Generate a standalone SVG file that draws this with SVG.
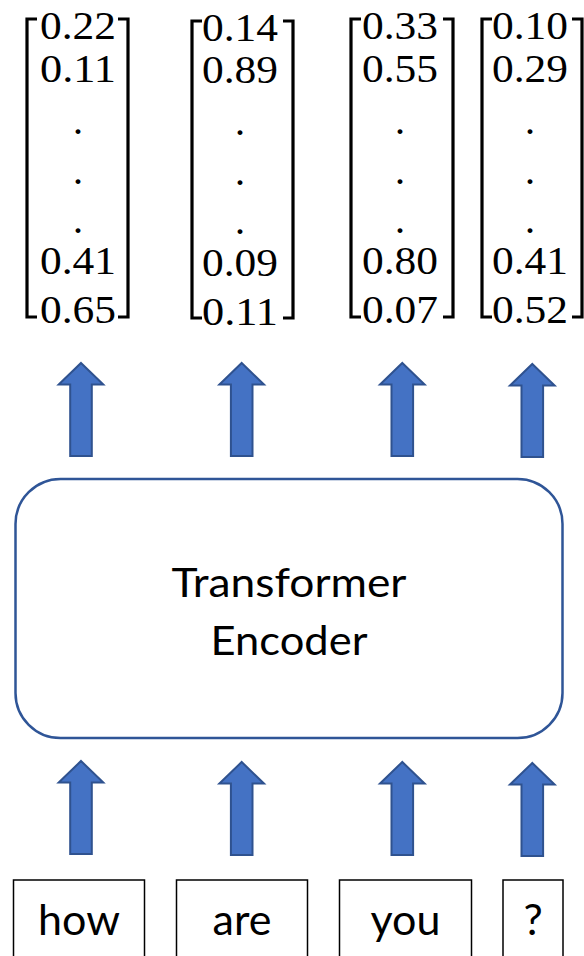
<svg xmlns="http://www.w3.org/2000/svg" xmlns:xlink="http://www.w3.org/1999/xlink" width="584" height="956" viewBox="0 0 584 956">
  <style>
    .num { font-family: "Liberation Serif", "Times New Roman", serif; font-size: 41px; fill: #000; text-anchor: middle; }
    .dot { font-size: 30px; font-weight: bold; }
    .bracket { fill: none; stroke: #000; stroke-width: 3.2; }
    .label { font-family: Lato, "Open Sans", sans-serif; font-size: 41px; fill: #000; text-anchor: middle; }
    .word { font-size: 43px; }
    .token { fill: #fff; stroke: #000; stroke-width: 1.5; }
    .encoder { fill: #fff; stroke: #2F5597; stroke-width: 2.5; }
    .arrow { fill: #4472C4; stroke: #2F528F; stroke-width: 2; stroke-linejoin: miter; }
  </style>
  <defs>
    <!-- block up-arrow, tip at (0,0) -->
    <path id="up" d="M0,0 L22.3,21.5 L10.8,21.5 L10.8,93 L-10.8,93 L-10.8,21.5 L-22.3,21.5 Z"/>
  </defs>
  <rect width="584" height="956" fill="#fff"/>

  <!-- output vectors -->
  <g id="vec-how">
    <path class="bracket" d="M37,19 H27 V317 H37 M118,19 H128 V317 H118"/>
    <text class="num" x="78" y="39" textLength="76" lengthAdjust="spacingAndGlyphs">0.22</text>
    <text class="num" x="78" y="82" textLength="76" lengthAdjust="spacingAndGlyphs">0.11</text>
    <text class="num dot" x="78" y="134">.</text>
    <text class="num dot" x="78" y="184">.</text>
    <text class="num dot" x="78" y="233">.</text>
    <text class="num" x="78" y="274" textLength="76" lengthAdjust="spacingAndGlyphs">0.41</text>
    <text class="num" x="78" y="323" textLength="76" lengthAdjust="spacingAndGlyphs">0.65</text>
  </g>
  <g id="vec-are">
    <path class="bracket" d="M202,21 H192 V318 H202 M283,21 H293 V318 H283"/>
    <text class="num" x="240" y="41" textLength="76" lengthAdjust="spacingAndGlyphs">0.14</text>
    <text class="num" x="240" y="83" textLength="76" lengthAdjust="spacingAndGlyphs">0.89</text>
    <text class="num dot" x="240" y="135">.</text>
    <text class="num dot" x="240" y="185">.</text>
    <text class="num dot" x="240" y="234">.</text>
    <text class="num" x="240" y="276" textLength="76" lengthAdjust="spacingAndGlyphs">0.09</text>
    <text class="num" x="240" y="325" textLength="76" lengthAdjust="spacingAndGlyphs">0.11</text>
  </g>
  <g id="vec-you">
    <path class="bracket" d="M361,19 H351 V317 H361 M443,19 H453 V317 H443"/>
    <text class="num" x="400" y="39" textLength="76" lengthAdjust="spacingAndGlyphs">0.33</text>
    <text class="num" x="400" y="82" textLength="76" lengthAdjust="spacingAndGlyphs">0.55</text>
    <text class="num dot" x="400" y="134">.</text>
    <text class="num dot" x="400" y="184">.</text>
    <text class="num dot" x="400" y="233">.</text>
    <text class="num" x="400" y="274" textLength="76" lengthAdjust="spacingAndGlyphs">0.80</text>
    <text class="num" x="400" y="323" textLength="76" lengthAdjust="spacingAndGlyphs">0.07</text>
  </g>
  <g id="vec-qmark">
    <path class="bracket" d="M492,19 H482 V317 H492 M572,19 H582 V317 H572"/>
    <text class="num" x="530" y="39" textLength="76" lengthAdjust="spacingAndGlyphs">0.10</text>
    <text class="num" x="530" y="82" textLength="76" lengthAdjust="spacingAndGlyphs">0.29</text>
    <text class="num dot" x="530" y="134">.</text>
    <text class="num dot" x="530" y="184">.</text>
    <text class="num dot" x="530" y="233">.</text>
    <text class="num" x="530" y="274" textLength="76" lengthAdjust="spacingAndGlyphs">0.41</text>
    <text class="num" x="530" y="323" textLength="76" lengthAdjust="spacingAndGlyphs">0.52</text>
  </g>

  <!-- encoder block -->
  <g id="encoder">
    <rect class="encoder" x="15.5" y="479" width="547" height="259" rx="45" ry="45"/>
    <text class="label" x="289" y="597" textLength="235" lengthAdjust="spacingAndGlyphs">Transformer</text>
    <text class="label" x="289" y="655" textLength="157" lengthAdjust="spacingAndGlyphs">Encoder</text>
  </g>

  <!-- input tokens -->
  <g id="tok-how">
    <rect class="token" x="13.5" y="880" width="131" height="90"/>
    <text class="label word" x="79" y="935">how</text>
  </g>
  <g id="tok-are">
    <rect class="token" x="176.5" y="880" width="131" height="90"/>
    <text class="label word" x="242" y="935">are</text>
  </g>
  <g id="tok-you">
    <rect class="token" x="339.5" y="880" width="132" height="90"/>
    <text class="label word" x="405.5" y="935">you</text>
  </g>
  <g id="tok-qmark">
    <rect class="token" x="503" y="880" width="60" height="90"/>
    <text class="label word" x="533" y="935">?</text>
  </g>

  <!-- connectors -->
  <g id="connectors">
    <use xlink:href="#up" class="arrow" x="81" y="363"/>
    <use xlink:href="#up" class="arrow" x="241.7" y="363"/>
    <use xlink:href="#up" class="arrow" x="402.3" y="363"/>
    <use xlink:href="#up" class="arrow" x="532.3" y="364"/>
    <use xlink:href="#up" class="arrow" x="81" y="761"/>
    <use xlink:href="#up" class="arrow" x="241.7" y="762"/>
    <use xlink:href="#up" class="arrow" x="402.3" y="762"/>
    <use xlink:href="#up" class="arrow" x="532.3" y="763"/>
  </g>
</svg>
